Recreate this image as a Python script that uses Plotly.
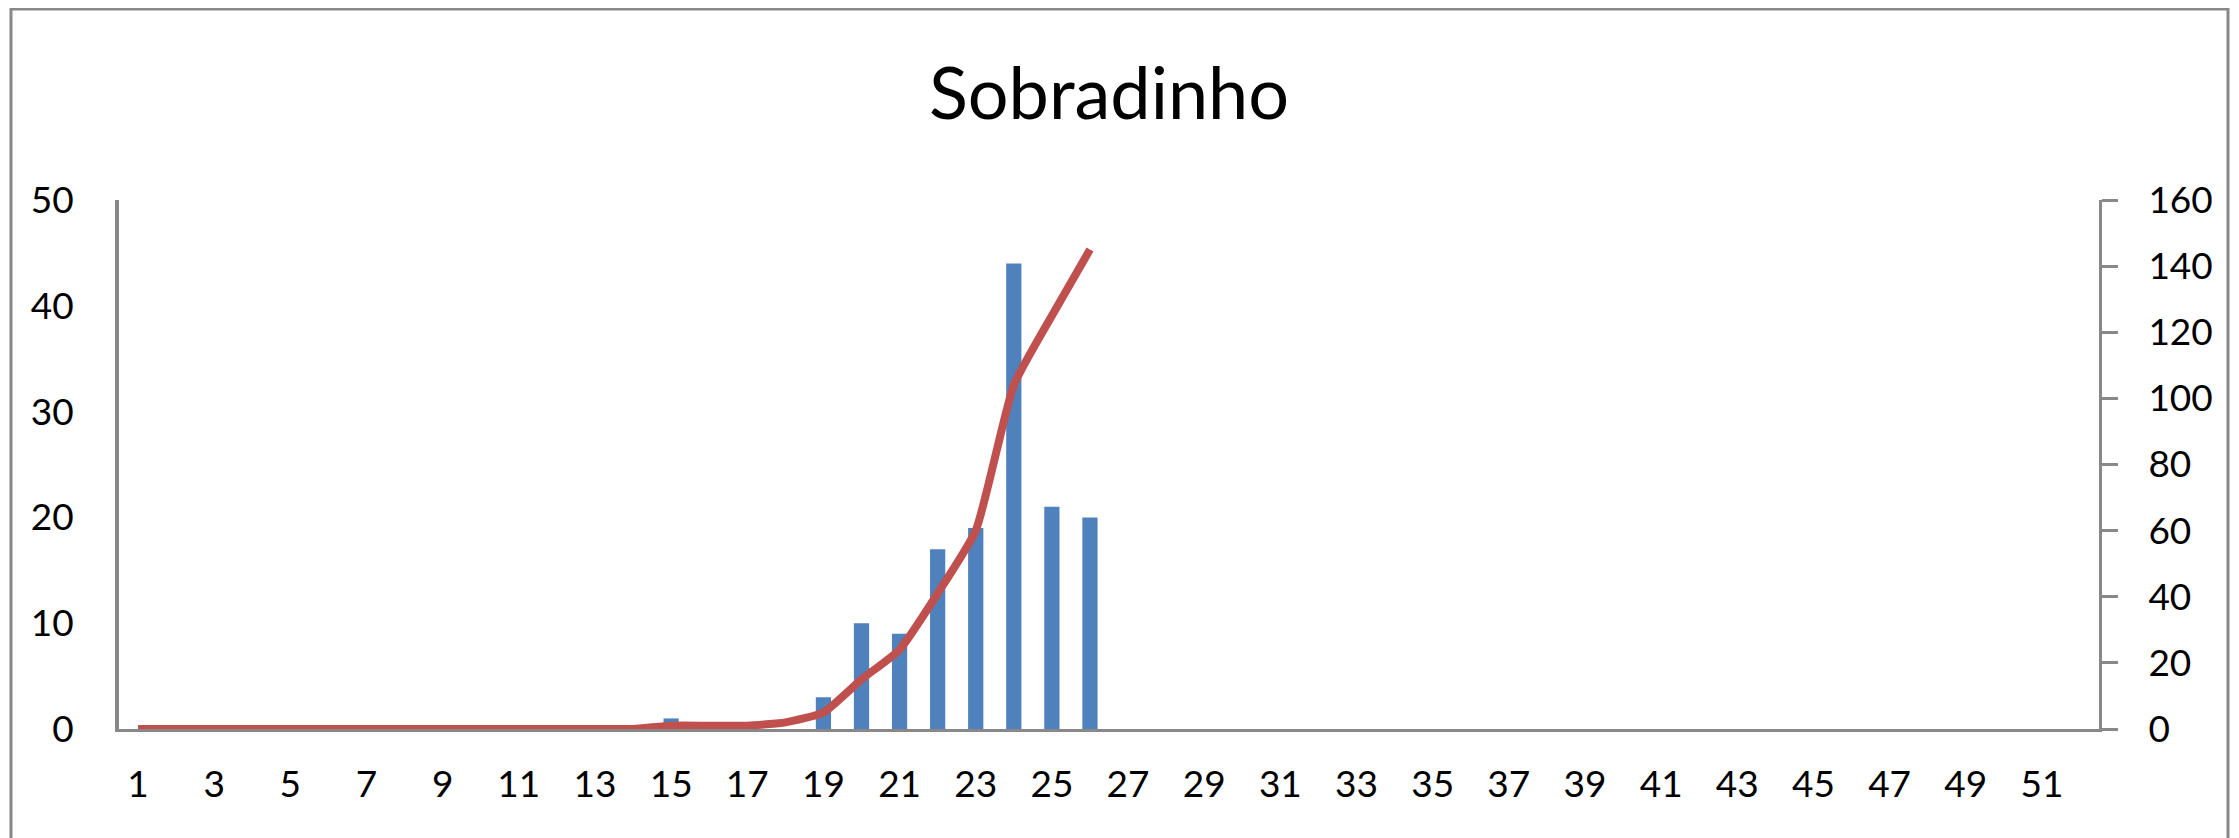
import plotly.graph_objects as go

# Weekly data (Sobradinho)
weeks = list(range(1, 53))
weekly_cases = [0, 0, 0, 0, 0, 0, 0, 0, 0, 0, 0, 0, 0, 0, 1, 0, 0, 0, 3, 10,
                9, 17, 19, 44, 21, 20, 0, 0, 0, 0, 0, 0, 0, 0, 0, 0, 0, 0, 0, 0,
                0, 0, 0, 0, 0, 0, 0, 0, 0, 0, 0, 0]
line_weeks = list(range(1, 27))
cumulative_cases = [0, 0, 0, 0, 0, 0, 0, 0, 0, 0, 0, 0, 0, 0, 1, 1, 1, 2, 5, 15,
                    24, 41, 60, 104, 125, 145]
tick_weeks = list(range(1, 52, 2))

BAR_COLOR = "#4F81BD"
LINE_COLOR = "#C0504D"
AXIS_COLOR = "#888888"
FONT = "Lato, 'Open Sans', sans-serif"

# page body has an 8px margin, so the figure is a bit smaller than the window
W, H = 2231, 830
ML, MR, MT, MB = 111, 140, 192, 109

fig = go.Figure()
fig.add_trace(go.Bar(x=weeks, y=weekly_cases, marker_color=BAR_COLOR,
                     marker_line_width=0, yaxis="y"))
fig.add_trace(go.Scatter(x=line_weeks, y=cumulative_cases, mode="lines",
                         line=dict(color=LINE_COLOR, width=8, shape="spline", smoothing=0.5),
                         yaxis="y2"))

fig.update_layout(
    width=W, height=H,
    margin=dict(l=ML, r=MR, t=MT, b=MB, autoexpand=False),
    paper_bgcolor="white", plot_bgcolor="white",
    font=dict(family=FONT, color="#000000", size=37),
    showlegend=False,
    bargap=0.6,
    title=dict(text="Sobradinho", x=0.5, xref="paper", xanchor="center",
               y=1 - 86 / H, yref="container", yanchor="middle",
               font=dict(size=72, family=FONT, color="#000000")),
    xaxis=dict(range=[0.5, 52.5], tickmode="array", tickvals=tick_weeks,
               showgrid=False, zeroline=False, showline=True, linecolor=AXIS_COLOR,
               linewidth=3, ticks="", ticklabelstandoff=21),
    yaxis=dict(range=[0, 50], dtick=10, showgrid=False, zeroline=False,
               showline=True, linecolor=AXIS_COLOR, linewidth=4, ticks="",
               ticklabelstandoff=34),
    yaxis2=dict(range=[0, 160], dtick=20, overlaying="y", side="right",
                showgrid=False, zeroline=False, showline=True, linecolor=AXIS_COLOR,
                linewidth=3, ticks="outside", ticklen=16, tickwidth=3,
                tickcolor=AXIS_COLOR, ticklabelstandoff=23),
)

# outer chart frame (open at the bottom, it runs past the picture)
pw, ph = W - ML - MR, H - MT - MB
fig.add_shape(type="rect", xref="paper", yref="paper",
              x0=(3 - ML) / pw, x1=(2220 - ML) / pw,
              y0=-(MB + 20) / ph, y1=(ph + MT - 1) / ph,
              line=dict(color=AXIS_COLOR, width=3), fillcolor="rgba(0,0,0,0)", layer="below")

fig.write_html("out.html")
